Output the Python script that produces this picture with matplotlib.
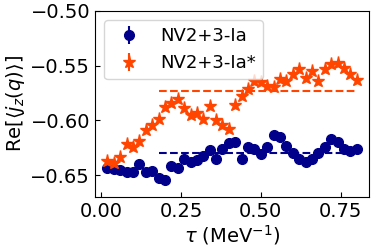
import numpy as np
import matplotlib
matplotlib.use("Agg")
import matplotlib.pyplot as plt

# Data
tau = [0.02, 0.04, 0.06, 0.08, 0.10, 0.12, 0.14, 0.16, 0.18, 0.20,
       0.22, 0.24, 0.26, 0.28, 0.30, 0.32, 0.34, 0.36, 0.38, 0.40,
       0.42, 0.44, 0.46, 0.48, 0.50, 0.52, 0.54, 0.56, 0.58, 0.60,
       0.62, 0.64, 0.66, 0.68, 0.70, 0.72, 0.74, 0.76, 0.78, 0.80]

re_ia = [-0.6437, -0.6446, -0.6455, -0.6476, -0.6470, -0.6401, -0.6476, -0.6461, -0.6527, -0.6542,
         -0.6416, -0.6437, -0.6355, -0.6385, -0.6364, -0.6326, -0.6271, -0.6349, -0.6265, -0.6211,
         -0.6195, -0.6355, -0.6244, -0.6259, -0.6310, -0.6244, -0.6138, -0.6156, -0.6235, -0.6301,
         -0.6349, -0.6380, -0.6355, -0.6301, -0.6244, -0.6168, -0.6195, -0.6265, -0.6280, -0.6265]

re_ia_star = [-0.6376, -0.6394, -0.6335, -0.6220, -0.6241, -0.6190, -0.6090, -0.6045, -0.5987, -0.5879,
              -0.5843, -0.5804, -0.5888, -0.5948, -0.5933, -0.5987, -0.5873, -0.5994, -0.6039, -0.6075,
              -0.5858, -0.5774, -0.5716, -0.5641, -0.5653, -0.5684, -0.5693, -0.5626, -0.5641, -0.5578,
              -0.5533, -0.5617, -0.5551, -0.5641, -0.5533, -0.5481, -0.5472, -0.5521, -0.5578, -0.5632]

# plateau fits (start, end, value)
fit_range = [0.18, 0.80]
fit_ia = -0.630
fit_ia_star = -0.573

labels = ["NV2+3-Ia", "NV2+3-Ia*"]
BLUE = "darkblue"
ORANGE = "orangered"

fig = plt.figure(figsize=(3.74, 2.48), dpi=100)
ax = fig.add_axes([0.254, 0.206, 0.733, 0.750])

ax.errorbar(tau, re_ia, yerr=0, fmt="o", color=BLUE, ms=7, label=labels[0])
ax.errorbar(tau, re_ia_star, yerr=0, fmt="*", color=ORANGE, ms=9.5, label=labels[1])

ax.plot(fit_range, [fit_ia, fit_ia], "--", color=BLUE, lw=1.5)
ax.plot(fit_range, [fit_ia_star, fit_ia_star], "--", color=ORANGE, lw=1.5)

ax.set_ylim(-0.67, -0.50)
ax.set_xticks([0.0, 0.25, 0.5, 0.75])
ax.set_yticks([-0.65, -0.60, -0.55, -0.50])
ax.tick_params(direction="in", labelsize=14)

ax.set_xlabel(r"$\tau$ (MeV$^{-1}$)", fontsize=14, labelpad=2)
ax.set_ylabel(r"Re$[\langle j_z(q)\rangle]$", fontsize=14, labelpad=2)

ax.legend(loc="upper left", fontsize=13, handletextpad=0.7, borderaxespad=0.5)

fig.savefig("out.png", dpi=100)
